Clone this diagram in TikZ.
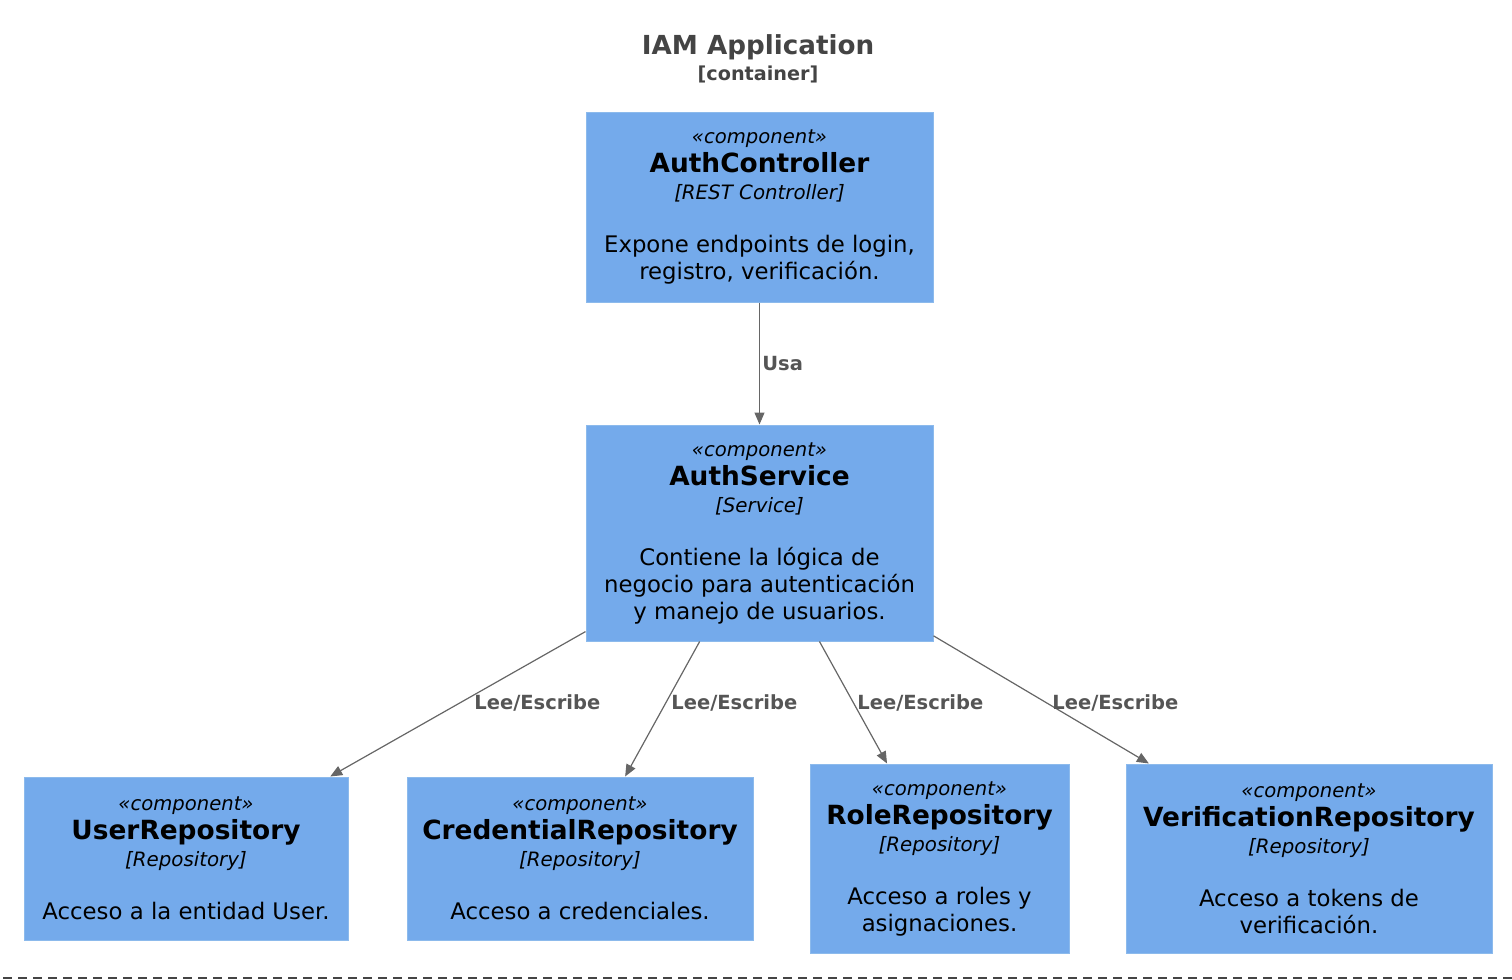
\documentclass[tikz,border=0pt]{standalone}
\usepackage{fontspec}
\setmainfont{DejaVu Sans}
\usetikzlibrary{arrows.meta}

\definecolor{compblue}{RGB}{116,170,235}
\definecolor{compline}{RGB}{140,186,236}
\definecolor{relgray}{RGB}{102,102,102}
\definecolor{lblgray}{RGB}{85,85,85}
\definecolor{titlegray}{RGB}{68,68,68}

% stereotype, name, technology, description
\newcommand{\comptext}[3]{%
  {\fontsize{9.8}{13.5}\selectfont\itshape «component»}\\[1pt]
  {\fontsize{13.2}{13.5}\selectfont\bfseries #1}\\
  {\fontsize{9.9}{13.5}\selectfont\itshape [#2]}\\[13pt]
  #3}

\begin{document}
\begin{tikzpicture}[x=0.5pt, y=-0.5pt,
    comp/.style={rectangle, fill=compblue, draw=compline, line width=0.5pt,
      inner sep=0pt, align=center, font=\fontsize{11.4}{13.5}\selectfont},
    rel/.style={draw=relgray, line width=0.6pt,
      -{Triangle[length=6pt, width=5pt]}},
    lbl/.style={text=lblgray, inner sep=0pt, anchor=west,
      font=\fontsize{9.75}{12}\selectfont\bfseries}]
    \useasboundingbox (0,0) rectangle (1512,980);

    % Title
    \node[text=titlegray, font=\fontsize{13.1}{15}\selectfont\bfseries] (title) at (758,47) {IAM Application};
    \node[text=titlegray, font=\fontsize{9.6}{12}\selectfont\bfseries] (subtitle) at (758,74) {[container]};

    % Controller and service
    \node[comp, minimum width=173.5pt, minimum height=95pt] (ctrl) at (759.5,207)
      {\comptext{AuthController}{REST Controller}{Expone endpoints de login,\\registro, verificación.}};
    \node[comp, minimum width=173.5pt, minimum height=108pt] (svc) at (759.5,533)
      {\comptext{AuthService}{Service}{Contiene la lógica de\\negocio para autenticación\\y manejo de usuarios.}};

    % Repositories
    \node[comp, minimum width=162pt, minimum height=81.5pt] (user) at (186,858.5)
      {\comptext{UserRepository}{Repository}{Acceso a la entidad User.}};
    \node[comp, minimum width=173pt, minimum height=81.5pt] (cred) at (580,858.5)
      {\comptext{CredentialRepository}{Repository}{Acceso a credenciales.}};
    \node[comp, minimum width=129.5pt, minimum height=94.5pt] (role) at (939.5,858.5)
      {\comptext{RoleRepository}{Repository}{Acceso a roles y\\asignaciones.}};
    \node[comp, minimum width=183pt, minimum height=94.5pt] (verif) at (1309,858.5)
      {\comptext{VerificationRepository}{Repository}{Acceso a tokens de\\verificación.}};

    % Relations
    \draw[rel] (ctrl) -- (svc);
    \node[lbl] (usa) at (762,364) {Usa};
    \draw[rel] (svc) -- (user);
    \draw[rel] (svc) -- (cred);
    \draw[rel] (svc) -- (role);
    \draw[rel] (svc) -- (verif);
    \node[lbl] (le1) at (474,703) {Lee/Escribe};
    \node[lbl] (le2) at (671,703) {Lee/Escribe};
    \node[lbl] (le3) at (857,703) {Lee/Escribe};
    \node[lbl] (le4) at (1052,703) {Lee/Escribe};

    % Container boundary
    \coordinate (bl) at (3,978);
    \coordinate (br) at (1512,978);
    \draw[titlegray, line width=0.75pt, dash pattern=on 4.5pt off 3pt] (bl) -- (br);
\end{tikzpicture}
\end{document}
